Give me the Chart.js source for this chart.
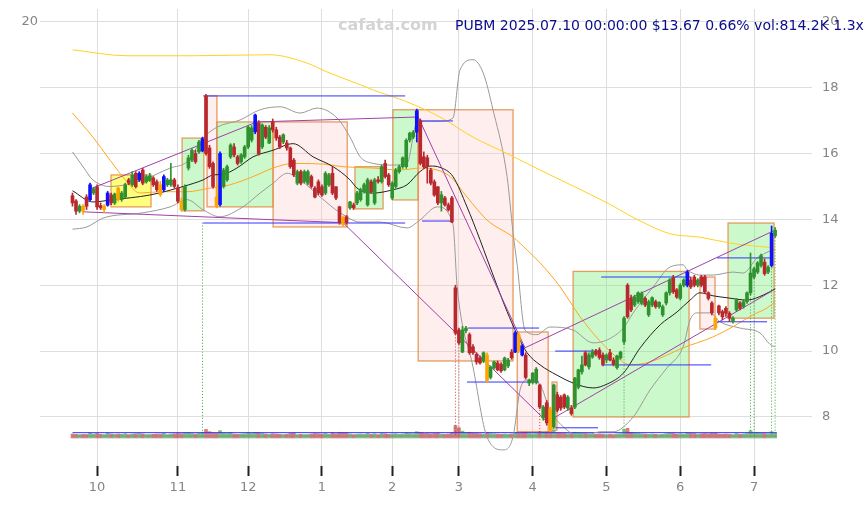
<!DOCTYPE html>
<html>
<head>
<meta charset="utf-8">
<script src="https://cdn.jsdelivr.net/npm/chart.js@4.4.1/dist/chart.umd.min.js"></script>
<style>
html, body { margin: 0; padding: 0; background: #fff; }
</style>
</head>
<body>
<canvas id="chart" width="867" height="505"></canvas>
<script>
// x = trading day index, 0 = 2024-09-19 ... 200 = 2025-07-10
var monthTicks  = [7, 30, 50, 71, 91, 110, 131, 152, 173, 194];
var monthLabels = ["10", "11", "12", "1", "2", "3", "4", "5", "6", "7"];
var priceTicks  = [8, 10, 12, 14, 16, 18, 20];

var opens = [
  14.72,14.56,14.25,14.40,14.68,14.60,14.80,14.99,14.42,14.30,
  14.43,14.74,14.50,14.95,14.60,14.68,15.20,15.05,15.40,15.20,
  15.50,15.14,15.18,15.26,15.14,15.05,14.90,15.05,15.05,15.20,
  14.96,14.55,14.30,15.56,15.80,16.00,16.05,16.08,17.75,16.17,
  15.70,14.68,14.45,15.00,15.20,15.90,16.20,15.90,15.75,15.90,
  16.20,16.41,16.66,16.93,16.20,16.80,16.32,16.96,16.72,16.50,
  16.35,16.32,16.17,15.80,15.10,15.45,15.15,15.10,15.30,14.95,
  15.14,14.99,14.80,15.05,15.40,14.99,14.38,14.05,14.08,14.35,
  14.44,14.50,14.60,14.84,14.44,15.14,14.50,15.20,15.14,15.70,
  15.35,14.65,15.00,15.45,15.60,15.60,16.41,16.50,16.65,17.00,
  15.90,15.87,15.50,15.14,14.99,14.50,14.65,14.44,14.65,11.92,
  10.64,9.97,10.62,10.50,10.13,9.90,9.79,9.70,9.88,9.20,
  9.49,9.64,9.60,9.43,9.55,9.97,9.97,10.50,10.16,9.88,
  9.03,9.06,9.06,8.97,7.97,8.43,8.24,7.70,8.67,8.60,
  8.67,8.27,8.27,8.30,8.90,9.37,9.95,9.52,9.82,10.00,
  10.03,9.88,9.73,9.95,9.73,9.50,9.79,10.28,12.00,11.60,
  11.40,11.50,11.45,11.60,11.10,11.40,11.50,11.35,11.10,11.46,
  11.77,12.22,11.86,11.60,12.00,12.00,12.16,12.25,12.00,12.25,
  12.25,11.77,11.46,11.00,11.37,11.20,11.30,11.15,10.90,11.25,
  11.46,11.35,11.50,11.77,12.25,12.40,12.60,12.70,12.40,12.60,
  13.50
];
var highs = [
  14.80,14.60,14.45,14.45,14.75,15.10,14.98,15.05,14.50,14.45,
  14.85,14.80,14.80,14.99,14.85,15.10,15.25,15.45,15.45,15.45,
  15.55,15.35,15.40,15.30,15.20,15.15,15.35,15.25,15.70,15.25,
  15.05,14.65,15.05,15.95,16.15,16.10,16.40,16.50,17.80,16.25,
  15.75,15.00,16.05,15.55,15.65,16.30,16.30,15.95,16.00,16.25,
  16.85,16.85,17.20,17.00,16.90,16.85,16.85,17.05,16.80,16.55,
  16.60,16.40,16.20,15.85,15.50,15.50,15.50,15.50,15.35,15.00,
  15.20,15.05,15.45,15.40,15.60,15.00,14.40,14.10,14.12,14.55,
  14.50,14.85,14.95,15.10,15.25,15.20,15.25,15.30,15.65,15.80,
  15.40,15.15,15.55,15.65,15.90,16.45,16.65,16.70,17.35,17.05,
  16.05,15.95,15.55,15.20,15.00,14.85,14.70,14.50,14.70,12.00,
  10.70,10.75,10.75,10.55,10.20,9.95,9.85,9.98,9.95,9.55,
  9.70,9.70,9.65,9.82,9.78,10.05,10.60,10.55,10.20,9.95,
  9.15,9.35,9.50,9.00,8.35,8.50,8.30,9.00,8.75,8.65,
  8.70,8.65,8.35,9.20,9.45,9.85,10.00,9.95,10.05,10.05,
  10.10,9.95,9.92,10.05,9.80,9.88,10.00,11.05,12.05,11.70,
  11.70,11.80,11.80,11.65,11.55,11.65,11.55,11.50,11.40,11.80,
  12.20,12.30,11.90,12.05,12.20,12.45,12.25,12.30,12.20,12.30,
  12.30,11.80,11.50,11.05,11.40,11.25,11.35,11.20,11.05,11.60,
  11.50,11.55,11.80,12.98,12.55,12.72,12.95,12.80,12.60,13.80,
  13.75
];
var lows = [
  14.40,14.15,14.20,14.15,14.30,14.55,14.75,14.30,14.30,14.20,
  14.40,14.45,14.45,14.55,14.55,14.65,15.05,15.00,14.95,15.15,
  15.05,15.10,15.15,15.00,14.85,14.70,14.85,15.00,15.00,14.95,
  14.50,14.25,14.25,15.50,15.75,15.70,16.00,16.05,15.95,15.55,
  14.95,14.35,14.40,14.95,15.15,15.85,15.90,15.65,15.70,15.85,
  16.15,16.35,16.60,15.95,16.15,16.45,16.30,16.65,16.40,16.15,
  16.30,16.10,15.55,15.30,15.05,15.05,15.10,15.05,14.95,14.65,
  14.75,14.70,14.75,15.00,14.75,14.60,13.85,13.80,13.85,14.30,
  14.30,14.45,14.55,14.80,14.40,14.80,14.45,15.10,15.10,15.25,
  15.00,14.60,14.95,15.40,15.55,15.55,16.35,16.45,16.35,15.65,
  15.55,15.10,15.05,14.70,14.45,14.25,14.40,14.25,13.90,10.50,
  10.20,9.95,10.55,9.90,9.90,9.60,9.60,9.65,9.05,9.15,
  9.45,9.40,9.35,9.40,9.50,9.75,9.95,9.95,9.85,9.15,
  8.95,9.00,9.00,8.25,7.90,7.75,7.55,7.65,8.15,8.20,
  8.25,8.20,8.05,8.25,8.85,9.30,9.55,9.45,9.78,9.85,
  9.75,9.55,9.65,9.70,9.55,9.45,9.75,10.20,11.00,11.20,
  11.35,11.45,11.40,11.35,11.05,11.35,11.30,11.30,11.05,11.40,
  11.70,11.75,11.60,11.55,11.95,11.95,11.90,11.95,11.95,11.95,
  11.75,11.55,11.10,10.65,11.10,10.95,11.05,10.90,10.85,11.20,
  11.25,11.30,11.45,11.70,12.20,12.35,12.55,12.30,12.35,12.55,
  13.45
];
var closes = [
  14.50,14.25,14.40,14.25,14.40,15.05,14.93,14.38,14.35,14.40,
  14.80,14.50,14.77,14.60,14.80,15.05,15.10,15.35,14.99,15.40,
  15.10,15.30,15.32,15.05,14.90,14.75,15.30,15.20,15.20,15.00,
  14.55,14.30,15.00,15.87,16.10,15.75,16.35,16.45,16.00,15.60,
  15.00,14.40,16.00,15.50,15.60,16.26,15.96,15.70,15.96,16.20,
  16.80,16.78,17.17,16.00,16.87,16.50,16.78,16.72,16.47,16.20,
  16.57,16.17,15.60,15.35,15.45,15.10,15.45,15.45,15.00,14.68,
  14.80,14.74,15.40,15.35,14.80,14.65,13.92,13.85,13.90,14.53,
  14.35,14.80,14.90,15.05,15.20,14.84,15.20,15.15,15.60,15.30,
  15.05,15.10,15.50,15.60,15.87,16.40,16.62,16.65,17.30,15.70,
  15.60,15.60,15.10,14.74,14.50,14.75,14.44,14.29,13.92,10.55,
  10.25,10.64,10.70,9.95,9.95,9.67,9.64,9.95,9.10,9.52,
  9.67,9.43,9.40,9.79,9.73,9.80,10.55,10.00,9.88,9.20,
  9.12,9.33,9.45,8.30,8.30,7.82,7.60,8.97,8.20,8.27,
  8.30,8.60,8.10,9.18,9.43,9.58,9.58,9.88,9.97,9.90,
  9.80,9.60,9.88,9.73,9.60,9.85,9.97,11.00,11.04,11.25,
  11.64,11.77,11.75,11.40,11.50,11.62,11.35,11.48,11.35,11.77,
  12.16,11.80,11.64,12.00,12.16,12.40,11.95,12.00,12.16,12.00,
  11.80,11.60,11.16,10.70,11.16,11.04,11.15,11.00,11.00,11.55,
  11.30,11.50,11.77,12.37,12.50,12.68,12.90,12.35,12.55,13.58,
  13.67
];
// volume in thousands of shares
var volumes = [
  700,650,600,640,620,900,700,800,650,600,
  850,700,650,700,650,750,600,700,750,800,
  720,600,620,650,700,680,820,600,700,750,
  800,750,900,950,800,700,850,1000,1500,1100,
  900,850,1300,900,800,950,700,650,700,750,
  900,800,1000,950,800,700,650,750,700,650,
  600,650,800,850,600,650,600,620,700,800,
  750,700,800,650,900,750,1000,950,900,700,
  600,650,700,650,800,650,750,600,800,750,
  650,700,750,650,700,900,800,750,1100,1000,
  850,800,750,800,850,700,650,700,950,2200,
  1800,1200,900,1000,850,800,750,700,1000,800,
  750,700,650,700,650,700,1000,900,950,1000,
  800,750,800,1100,1000,1050,1200,1300,900,850,
  800,750,800,1000,900,850,800,750,700,650,
  700,650,600,650,600,700,750,1500,1700,1000,
  850,800,750,700,650,700,650,600,650,750,
  850,800,700,750,700,950,850,800,700,750,
  800,750,850,900,700,650,700,650,600,800,
  650,700,800,1300,1000,900,850,800,750,1100,
  814
];
var volLevels = [930, 350];

// candles flagged by the site (volume / signal colouring)
var blueIdx   = [5, 10, 19, 26, 37, 42, 52, 98, 126, 128, 175, 199];
var orangeIdx = [3, 9, 13, 25, 31, 41, 77, 118, 127, 136, 183];

// indicator lines: [index, price]
var maFast = [[0,14.87],[5.8,14.53],[11.5,14.6],[22,14.74],[31.5,15.0],[37.2,15.2],[40,15.35],[42.8,15.37],
  [46.8,15.56],[51.4,15.9],[57.1,16.1],[62.8,16.3],[68.5,15.9],[74.2,15.6],[79,15.2],[81,14.95],[85.6,14.8],
  [91.2,14.9],[95.2,15.05],[98.9,15.45],[101.8,15.62],[104.6,15.58],[108.3,15.3],[112.3,14.38],[116,13.38],
  [118,12.8],[123.7,11.2],[126.6,10.5],[129.4,9.95],[133.1,9.58],[137.9,9.27],[142.5,9.03],[148.2,8.88],
  [152.2,9.0],[156.8,9.33],[161.6,10.1],[167.3,10.8],[172.1,11.19],[175.8,11.55],[178.6,11.77],[182.3,11.68],
  [186.3,11.62],[192,11.55],[196.6,11.7],[200,11.89]];
var bandUpper = [[0,16.05],[3,15.6],[5.8,15.2],[10.7,15.0],[20,15.2],[27.8,15.56],[32.6,15.75],[37.2,16.47],
  [41.1,16.8],[47.7,17.02],[53.4,17.33],[59.1,17.42],[64.8,17.23],[69.6,17.38],[75.3,17.08],[79,16.5],
  [81.9,15.9],[85.6,15.7],[91.2,15.65],[95.2,15.7],[98,16.93],[100.8,16.98],[104.6,16.98],[108.3,17.08],
  [110.3,18.54],[114,18.85],[116.9,18.45],[119.7,17.33],[123.7,15.3],[125.4,13.6],[126.6,12.6],[128.8,10.64],
  [132.2,10.5],[135.9,10.73],[142.5,10.64],[148.2,10.25],[152.2,10.34],[156.8,10.7],[159.6,11.16],
  [165.3,11.95],[170.2,12.56],[173.8,12.62],[175,12.47],[178.6,12.31],[182.3,12.31],[188,12.4],
  [190.9,12.37],[194.9,12.83],[197.7,13.0],[200,13.1]];
var bandLower = [[0,13.7],[4.1,13.77],[8.7,14.04],[20,14.2],[27.8,14.38],[32.6,14.6],[37.2,14.29],[41.9,14.08],
  [48.5,14.38],[53.4,14.8],[57.1,15.1],[61.1,15.4],[64.8,15.2],[70.5,14.68],[76.2,14.2],[81.9,13.92],
  [87.6,13.92],[95.2,13.74],[98.9,13.98],[103.8,14.38],[108.3,13.85],[109.5,11.95],[114,9.52],[118,7.39],
  [122.6,7.0],[125.4,7.4],[127.4,8.82],[129.4,9.12],[133.1,8.97],[135.9,8.21],[140.8,7.6],[144.5,7.39],
  [150.2,7.55],[153.9,7.55],[159.6,8.0],[164.4,8.82],[169.2,9.49],[173.8,10.13],[175.8,10.95],[177.8,11.16],
  [181.5,11.16],[184.3,10.89],[190,10.7],[195.7,10.55],[198.6,10.2],[200,10.13]];
var maMid = [[0,17.23],[5.8,16.5],[10.7,15.8],[15.5,15.14],[19.2,14.8],[24.9,14.84],[32.6,14.84],[39.1,14.95],
  [44.8,15.05],[51.4,15.3],[57.1,15.56],[62.8,15.7],[71.3,15.68],[77,15.6],[85.6,15.56],[93.3,15.5],[99,15.56],
  [103.8,15.5],[107.5,15.3],[112.3,14.68],[118,13.98],[125.4,13.46],[129.4,13.07],[133.1,12.68],[138.8,11.95],
  [144.5,11.04],[150.2,10.3],[155.9,9.73],[158.7,9.58],[164.4,9.67],[173.8,10.1],[182.3,10.43],[188,10.74],
  [193.7,11.1],[197.7,11.31],[200,11.5]];
var maSlow = [[0,19.15],[15.5,18.97],[34.3,18.97],[56.2,19.0],[66.7,18.75],[72.4,18.48],[81.9,18.09],
  [85.6,17.93],[95.2,17.57],[104.6,17.11],[114,16.5],[123.7,16.0],[133.1,15.5],[152.2,14.5],[161.6,13.95],
  [170.2,13.56],[178.6,13.46],[187.2,13.28],[200,13.13]];

// trend lines: [x0, price0, x1, price1]
var trendLines = [[5,14.92,52.5,16.96],[52.5,16.96,98.4,17.11],[98.4,17.11,128.8,10.1],[128.8,10.1,199.5,13.65],
  [3,14.23,77,13.9],[77,13.9,135.1,7.85],[135.1,7.85,199.5,11.85]];
// support / resistance levels: [x0, x1, price]
var levels = [[37.2,94.7,17.75],[37.2,94.7,13.89],[98.9,108.3,16.99],[99.5,108.3,13.95],[112.6,132.8,10.7],
  [112.3,132.8,9.06],[137.4,149.6,7.67],[137.4,149.6,10.0],[150.5,175.8,12.25],[150.5,181.8,9.58],
  [183.5,199.1,12.83],[183.5,197.7,10.89]];
// boxes: [x0, x1, top, bottom, kind]
var boxes = [[10.96,22.35,15.35,14.38,"y"],[31.2,37.4,16.47,14.26,"g"],[38.3,41.1,17.75,14.38,"p"],
  [41.1,57.1,16.96,14.38,"g"],[57.1,78.2,16.96,13.77,"p"],[80.4,88.4,15.6,14.32,"g"],[91.2,98.4,17.33,14.59,"g"],
  [98.4,125.4,17.33,9.7,"p"],[126.6,135.4,10.58,7.55,"p"],[136.5,137.9,9.06,7.6,"p"],[142.5,175.5,12.42,8.0,"g"],
  [178.6,182.9,12.25,10.67,"p"],[186.6,199.7,13.89,11.0,"g"]];
// signal markers: [index, top price, kind]
var signals = [[37,13.9,"g"],[109,10.5,"r"],[110,10.2,"r"],[133,8.3,"r"],[157,10.2,"g"],
  [193,12.9,"g"],[194,12.2,"g"],[199,12.6,"g"],[200,13.45,"g"]];

var headline = "PUBM 2025.07.10 00:00:00 $13.67 0.66% vol:814.2K 1.3x";
var watermark = "cafata.com";

var idx = opens.map(function(v, i){ return i; });
var candleColor = idx.map(function(i){
  if (blueIdx.indexOf(i) >= 0) return "#1010ff";
  if (orangeIdx.indexOf(i) >= 0) return "#ffa500";
  return closes[i] >= opens[i] ? "#2f922f" : "#b8282c";
});
var volColor = idx.map(function(i){
  return closes[i] >= opens[i] ? "rgba(70,165,70,0.7)" : "rgba(200,70,70,0.7)";
});

function pts(arr){ return arr.map(function(p){ return {x: p[0], y: p[1]}; }); }
function lineSet(data, color, order, extra){
  var d = { type: "line", data: data, borderColor: color, borderWidth: 1, pointRadius: 0,
            fill: false, order: order, cubicInterpolationMode: "monotone" };
  for (var k in extra) d[k] = extra[k];
  return d;
}

var datasets = [];
datasets.push({ type: "bar", yAxisID: "yv", order: 20, grouped: false, barThickness: 3,
  data: idx.map(function(i){ return {x: i, y: volumes[i]}; }), backgroundColor: volColor });
volLevels.forEach(function(v, k){
  datasets.push(lineSet([{x: 0, y: v}, {x: 200.5, y: v}], k === 0 ? "#3030ff" : "#888888", 19, {yAxisID: "yv"}));
});
datasets.push(lineSet(pts(bandUpper), "#999999", 9));
datasets.push(lineSet(pts(bandLower), "#999999", 9));
datasets.push(lineSet(pts(maSlow), "#ffd21f", 8));
datasets.push(lineSet(pts(maMid), "#ffa51f", 8));
datasets.push(lineSet(pts(maFast), "#222222", 7));
signals.forEach(function(s){
  datasets.push(lineSet([{x: s[0], y: s[1]}, {x: s[0], y: 7.4}], s[2] === "g" ? "#3aa03a" : "#c04545", 10,
    {borderDash: [1, 2]}));
});
trendLines.forEach(function(t){
  datasets.push(lineSet([{x: t[0], y: t[1]}, {x: t[2], y: t[3]}], "#a040a8", 6));
});
levels.forEach(function(l){
  datasets.push(lineSet([{x: l[0], y: l[2]}, {x: l[1], y: l[2]}], "#3333ff", 5));
});
datasets.push({ type: "bar", order: 2, grouped: false, barThickness: 1,
  data: idx.map(function(i){ return {x: i, y: [lows[i], highs[i]]}; }), backgroundColor: candleColor });
datasets.push({ type: "bar", order: 1, grouped: false, barThickness: 3, minBarLength: 1,
  data: idx.map(function(i){ return {x: i, y: [opens[i], closes[i]]}; }), backgroundColor: candleColor });

var boxFill = { g: "rgba(120,240,120,0.38)", p: "rgba(250,195,195,0.28)", y: "rgba(255,255,20,0.55)" };

var overlay = {
  id: "overlay",
  beforeDatasetsDraw: function(chart){
    var ctx = chart.ctx, xs = chart.scales.x, ys = chart.scales.y;
    ctx.save();
    boxes.forEach(function(b){
      var x0 = xs.getPixelForValue(b[0]), x1 = xs.getPixelForValue(b[1]);
      var y0 = ys.getPixelForValue(b[2]), y1 = ys.getPixelForValue(b[3]);
      ctx.fillStyle = boxFill[b[4]];
      ctx.fillRect(x0, y0, x1 - x0, y1 - y0);
      ctx.strokeStyle = "rgba(225,140,70,0.85)";
      ctx.lineWidth = 1.3;
      ctx.strokeRect(x0, y0, x1 - x0, y1 - y0);
    });
    ctx.restore();
  },
  afterDraw: function(chart){
    var ctx = chart.ctx;
    ctx.save();
    ctx.textBaseline = "middle";
    ctx.font = "bold 16px 'DejaVu Sans'";
    ctx.fillStyle = "#d4d4d4";
    ctx.fillText(watermark, 338, 26);
    ctx.font = "14px 'DejaVu Sans'";
    ctx.fillStyle = "#0c0c8c";
    ctx.fillText(headline, 455, 26);
    ctx.restore();
  }
};

var tickFont = { family: "DejaVu Sans", size: 13 };
function noPad(s){ s.paddingTop = 0; s.paddingBottom = 0; s.paddingLeft = 0; s.paddingRight = 0; }

new Chart(document.getElementById("chart").getContext("2d"), {
  type: "bar",
  data: { datasets: datasets },
  options: {
    responsive: false,
    animation: false,
    layout: { padding: { top: 9 } },
    plugins: { legend: { display: false }, tooltip: { enabled: false } },
    scales: {
      x: {
        type: "linear", min: -9.25, max: 210.5, offset: false,
        grid: { offset: false, color: "#dedede", tickLength: 10, tickColor: "#222", tickWidth: 2 },
        border: { display: false },
        ticks: {
          color: "#858585", font: tickFont, padding: 4, autoSkip: false, maxRotation: 0,
          callback: function(v){ var k = monthTicks.indexOf(v); return k >= 0 ? monthLabels[k] : ""; }
        },
        afterBuildTicks: function(s){ s.ticks = monthTicks.map(function(v){ return {value: v}; }); },
        afterFit: function(s){ s.height = 39; noPad(s); }
      },
      y: {
        position: "right", min: 6.51, max: 20.39,
        grid: { color: "#dedede", drawTicks: false },
        border: { display: false },
        ticks: { color: "#858585", font: tickFont, padding: 10 },
        afterBuildTicks: function(s){ s.ticks = priceTicks.map(function(v){ return {value: v}; }); },
        afterFit: function(s){ s.width = 55; noPad(s); }
      },
      yl: {
        position: "left", min: 6.51, max: 20.39,
        grid: { display: false, drawTicks: false },
        border: { display: false },
        ticks: { color: "#858585", font: tickFont, padding: 2 },
        afterBuildTicks: function(s){ s.ticks = [{value: 20}]; },
        afterFit: function(s){ s.width = 40; noPad(s); }
      },
      yv: { display: false, min: -4900, max: 75075 }
    }
  },
  plugins: [overlay]
});
</script>
</body>
</html>
